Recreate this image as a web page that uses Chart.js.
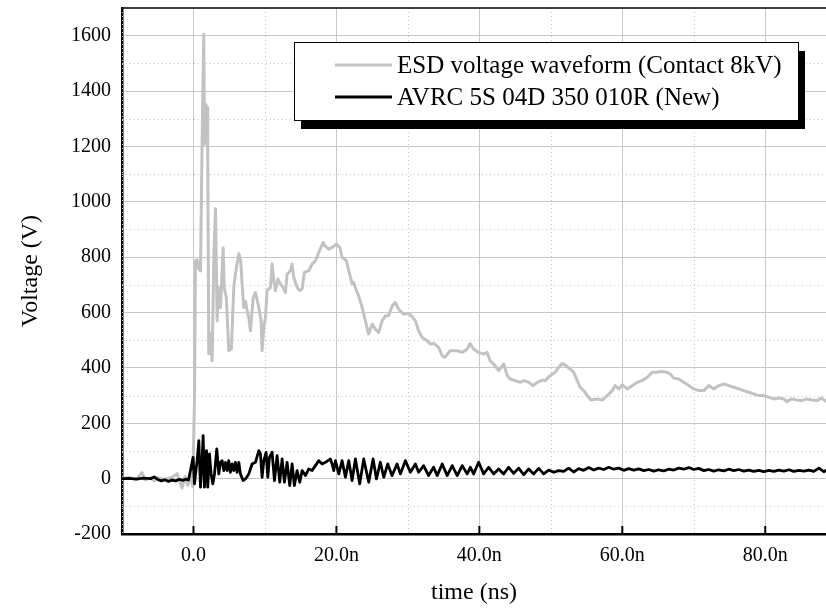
<!DOCTYPE html>
<html lang="en">
<head>
<meta charset="UTF-8">
<title>ESD voltage waveform</title>
<script src="https://cdn.jsdelivr.net/npm/chart.js"></script>
<style>
  html, body { margin: 0; padding: 0; background: #fff; }
</style>
</head>
<body>
<canvas id="chart" width="826" height="608"></canvas>
<script>
// series labels
const seriesLabels = ['ESD voltage waveform (Contact 8kV)', 'AVRC 5S 04D 350 010R (New)'];

// ESD waveform, time in ns / voltage in V
const esdTime = [
  -10, -9, -8, -7.2, -6.8, -6, -5.5, -5, -4, -3,
  -2.3, -1.6, -1.2, -0.8, -0.4, -0.1, 0.15, 0.28, 0.5, 0.7,
  0.98, 1.2, 1.44, 1.54, 1.68, 1.91, 2.0, 2.14, 2.35, 2.61,
  2.85, 3.08, 3.31, 3.54, 3.78, 4.15, 4.3, 4.6, 4.94, 5.3,
  5.64, 5.87, 6.34, 6.6, 6.81, 7.04, 7.3, 7.5, 7.74, 7.97,
  8.35, 8.67, 9.14, 9.46, 9.6, 9.84, 10.07, 10.3, 10.77, 11.0,
  11.24, 11.47, 11.8, 12.17, 12.54, 12.87, 13.1, 13.57, 13.8, 14.03,
  14.5, 14.87, 15.2, 15.52, 16.13, 16.6, 17.06, 17.53, 18.14, 18.37,
  18.93, 19.4, 20.0, 20.47, 20.8, 21.4, 21.73, 22.2, 22.4, 22.8,
  23.1, 23.6, 24.06, 24.5, 25.0, 25.45, 25.9, 26.4, 26.85, 27.3,
  27.8, 28.25, 28.7, 29.4, 30.1, 30.6, 31.05, 31.5, 32.0, 32.7,
  33.15, 33.6, 34.3, 34.8, 35.2, 35.9, 36.9, 37.6, 38.3, 38.7,
  39.2, 39.9, 40.6, 41.1, 41.5, 42.2, 42.7, 43.4, 43.9, 44.3,
  45.0, 45.7, 46.2, 46.9, 47.5, 48.1, 48.8, 49.2, 49.9, 50.6,
  51.1, 51.6, 52.0, 52.7, 53.2, 53.7, 54.1, 54.6, 55.1, 55.6,
  56.5, 57.2, 57.9, 58.6, 59.0, 59.5, 60.0, 60.7, 61.4, 62.1,
  62.75, 63.5, 64.2, 64.85, 65.55, 66.25, 66.7, 67.2, 67.9, 68.6,
  69.3, 70.0, 70.7, 71.4, 72.1, 72.8, 73.5, 74.2, 74.9, 75.6,
  76.3, 77.0, 77.7, 78.4, 79.1, 79.8, 80.5, 81.2, 81.9, 82.6,
  83.0, 83.7, 84.4, 85.1, 85.8, 86.5, 87.2, 87.9, 88.5
];
const esdVolt = [
  0, 3, -2, 22, -4, 2, -8, 3, -3, 5,
  18, -34, 8, -24, 12, -28, 300, 787, 790, 760,
  750, 1200, 1605, 1208, 1353, 1341, 1150, 451, 524, 426,
  800, 975, 570, 690, 618, 834, 690, 654, 462, 468,
  690, 740, 812, 790, 700, 618, 640, 606, 582, 534,
  654, 672, 618, 570, 462, 546, 582, 679, 691, 775,
  715, 679, 721, 703, 691, 672, 739, 751, 775, 727,
  691, 679, 685, 745, 751, 775, 787, 817, 853, 841,
  829, 835, 847, 835, 799, 787, 751, 703, 709, 679,
  661, 618, 570, 522, 558, 540, 528, 570, 588, 588,
  624, 636, 612, 594, 597, 585, 570, 534, 510, 498,
  486, 489, 474, 444, 438, 462, 462, 456, 468, 488,
  468, 456, 450, 456, 426, 408, 390, 414, 372, 360,
  354, 348, 354, 348, 336, 348, 356, 354, 372, 384,
  402, 416, 410, 396, 384, 354, 330, 318, 300, 284,
  288, 284, 300, 318, 336, 324, 339, 324, 336, 348,
  354, 366, 384, 384, 387, 384, 378, 363, 360, 348,
  336, 324, 318, 318, 336, 324, 336, 342, 336, 330,
  324, 318, 312, 306, 300, 300, 294, 288, 291, 288,
  278, 288, 284, 282, 288, 284, 282, 291, 279
];

// AVRC clamped waveform
const avrcTime = [
  -10, -9, -8, -7, -6, -5.5, -5, -4.5, -4, -3.5,
  -3, -2.5, -2, -1.5, -1, -0.7, -0.42, -0.05, 0.14, 0.51,
  0.75, 0.98, 1.21, 1.35, 1.54, 1.82, 2.0, 2.24, 2.47, 2.7,
  2.94, 3.26, 3.54, 3.78, 4.01, 4.24, 4.48, 4.71, 4.94, 5.17,
  5.41, 5.64, 5.87, 6.1, 6.34, 6.57, 6.95, 7.27, 7.74, 8.2,
  8.67, 9.14, 9.37, 9.6, 9.84, 10.16, 10.4, 10.63, 11.0, 11.33,
  11.7, 12.07, 12.4, 12.72, 13.1, 13.47, 13.8, 14.12, 14.5, 14.87,
  15.2, 15.66, 16.13, 16.6, 17.06, 17.53, 18.0, 18.46, 19.16, 19.39,
  19.63, 19.86, 20.33, 20.79, 21.26, 21.73, 22.19, 22.66, 23.26, 23.82,
  24.52, 25.13, 25.6, 26.15, 26.62, 27.18, 27.78, 28.48, 28.95, 29.65,
  30.35, 31.05, 31.5, 32.2, 32.9, 33.6, 34.1, 34.8, 35.5, 36.2,
  36.9, 37.6, 38.3, 38.74, 39.2, 39.9, 40.6, 41.3, 42.0, 42.7,
  43.4, 44.1, 44.8, 45.5, 46.2, 46.9, 47.6, 48.3, 49.0, 49.7,
  50.4, 51.1, 51.8, 52.5, 53.2, 53.9, 54.6, 55.3, 56.0, 56.7,
  57.4, 58.1, 58.8, 59.5, 60.2, 60.9, 61.6, 62.3, 63.0, 63.7,
  64.4, 65.1, 65.8, 66.5, 67.2, 67.9, 68.6, 69.3, 70.0, 70.7,
  71.4, 72.1, 72.8, 73.5, 74.2, 74.9, 75.6, 76.3, 77.0, 77.7,
  78.4, 79.1, 79.8, 80.5, 81.2, 81.9, 82.6, 83.3, 84.0, 84.7,
  85.4, 86.1, 86.8, 87.5, 88.2, 88.5
];
const avrcVolt = [
  0, 1, -2, 2, 0, 6, -3, -8, -4, -10,
  -5, -8, -3, -6, -2, -5, 29, 77, -19, 65,
  137, -31, 65, 155, -31, 101, -31, 89, 17, -19,
  17, 107, 17, 59, 65, 29, 59, 29, 65, 23,
  53, 29, 59, 23, 59, 17, -7, -1, 17, 53,
  59, 101, 89, 5, 65, 95, 5, 77, 95, -7,
  83, -13, 71, -13, 59, -25, 53, -25, 29, -13,
  29, 11, 35, 29, 47, 65, 53, 59, 71, 53,
  29, 65, 17, 65, 5, 65, -7, 71, -19, 71,
  -13, 71, -1, 59, 5, 53, 11, 53, 17, 65,
  23, 53, 23, 47, 11, 41, 11, 53, 11, 47,
  11, 47, 17, 41, 17, 59, 17, 41, 17, 35,
  17, 41, 19, 38, 14, 35, 17, 37, 17, 31,
  23, 29, 26, 38, 24, 36, 30, 40, 31, 38,
  33, 41, 34, 38, 30, 36, 31, 35, 29, 33,
  27, 32, 28, 34, 31, 38, 34, 40, 33, 37,
  29, 33, 27, 32, 28, 34, 29, 33, 27, 31,
  26, 30, 25, 30, 26, 31, 27, 32, 26, 30,
  27, 31, 26, 38, 25, 30
];

// axis ticks
const xTickValues = [0, 20, 40, 60, 80];
const xMinorValues = [-10, 10, 30, 50, 70];
const yTickValues = [-200, 0, 200, 400, 600, 800, 1000, 1200, 1400, 1600];
const yMinorValues = [-100, 100, 300, 500, 700, 900, 1100, 1300, 1500];

const FONT = '"Liberation Serif", "Times New Roman", serif';

function toPoints(xs, ys) {
  return xs.map((t, i) => ({ x: t, y: ys[i] }));
}

function seg(ctx, x1, y1, x2, y2) {
  ctx.beginPath();
  ctx.moveTo(x1, y1);
  ctx.lineTo(x2, y2);
  ctx.stroke();
}

// dotted minor grid, inner ticks, top frame and the boxed legend
const extras = {
  id: 'extras',
  beforeDatasetsDraw(chart) {
    const { ctx, chartArea: a, scales: { x, y } } = chart;
    ctx.save();
    ctx.strokeStyle = '#c4c4c4';
    ctx.lineWidth = 1;
    ctx.setLineDash([1, 3]);
    xMinorValues.forEach(v => {
      const px = Math.round(x.getPixelForValue(v)) + 0.5;
      seg(ctx, px, a.top, px, a.bottom);
    });
    yMinorValues.forEach(v => {
      const py = Math.round(y.getPixelForValue(v)) + 0.5;
      seg(ctx, a.left, py, a.right, py);
    });
    ctx.restore();
  },
  afterDatasetsDraw(chart) {
    const { ctx, chartArea: a, scales: { x } } = chart;
    ctx.save();
    ctx.strokeStyle = '#000';
    ctx.lineWidth = 2;
    xTickValues.forEach(v => {
      const px = x.getPixelForValue(v);
      seg(ctx, px, a.bottom, px, a.bottom - 8);
    });
    ctx.lineWidth = 1.5;
    seg(ctx, a.left, a.top, a.right, a.top);
    ctx.restore();
  },
  afterDraw(chart) {
    const { ctx, chartArea: a } = chart;
    const w = 504, h = 78;
    const bx = a.right - 28 - w, by = a.top + 34;
    ctx.save();
    ctx.fillStyle = '#000';
    ctx.fillRect(bx + 7, by + 9, w, h);
    ctx.fillStyle = '#fff';
    ctx.fillRect(bx, by, w, h);
    ctx.strokeStyle = '#000';
    ctx.lineWidth = 1;
    ctx.strokeRect(bx + 0.5, by + 0.5, w, h);
    chart.data.datasets.forEach((ds, i) => {
      const ly = by + 23 + i * 32;
      ctx.strokeStyle = ds.borderColor;
      ctx.lineWidth = 3;
      seg(ctx, bx + 41, ly, bx + 98, ly);
      ctx.fillStyle = '#000';
      ctx.font = '25px ' + FONT;
      ctx.textBaseline = 'middle';
      ctx.fillText(ds.label, bx + 103, ly + 1);
    });
    ctx.restore();
  }
};

new Chart(document.getElementById('chart'), {
  type: 'line',
  data: {
    datasets: [
      {
        label: seriesLabels[0],
        data: toPoints(esdTime, esdVolt),
        borderColor: '#c2c2c2',
        borderWidth: 3,
        order: 1
      },
      {
        label: seriesLabels[1],
        data: toPoints(avrcTime, avrcVolt),
        borderColor: '#000000',
        borderWidth: 2.8,
        order: 0
      }
    ]
  },
  options: {
    responsive: false,
    animation: false,
    layout: { autoPadding: false, padding: { top: 8, left: 0, right: 0, bottom: 0 } },
    elements: {
      point: { radius: 0 },
      line: { tension: 0, borderJoinStyle: 'round', borderCapStyle: 'round' }
    },
    plugins: { legend: { display: false }, tooltip: { enabled: false } },
    scales: {
      x: {
        type: 'linear',
        min: -10,
        max: 88.5,
        afterBuildTicks: s => { s.ticks = xTickValues.map(v => ({ value: v })); },
        afterFit: s => { s.height = 74; s.paddingLeft = 0; s.paddingRight = 0; },
        ticks: {
          color: '#000',
          padding: 10,
          maxRotation: 0,
          font: { family: FONT, size: 20 },
          callback: v => v === 0 ? '0.0' : v.toFixed(1) + 'n'
        },
        grid: { color: '#c8c8c8', lineWidth: 1, drawTicks: false },
        border: { color: '#000', width: 2.5 },
        title: {
          display: true,
          text: 'time (ns)',
          color: '#000',
          font: { family: FONT, size: 24 },
          padding: { top: 0, bottom: 1 }
        }
      },
      y: {
        min: -200,
        max: 1700,
        afterBuildTicks: s => { s.ticks = yTickValues.map(v => ({ value: v })); },
        afterFit: s => { s.width = 122; s.paddingTop = 0; s.paddingBottom = 0; },
        ticks: {
          color: '#000',
          padding: 11,
          font: { family: FONT, size: 20 },
          callback: v => String(v)
        },
        grid: { color: '#c8c8c8', lineWidth: 1, drawTicks: false },
        border: { color: '#000', width: 2.5 },
        title: {
          display: true,
          text: 'Voltage (V)',
          color: '#000',
          font: { family: FONT, size: 24 },
          padding: { top: 16, bottom: 0 }
        }
      }
    }
  },
  plugins: [extras]
});
</script>
</body>
</html>
